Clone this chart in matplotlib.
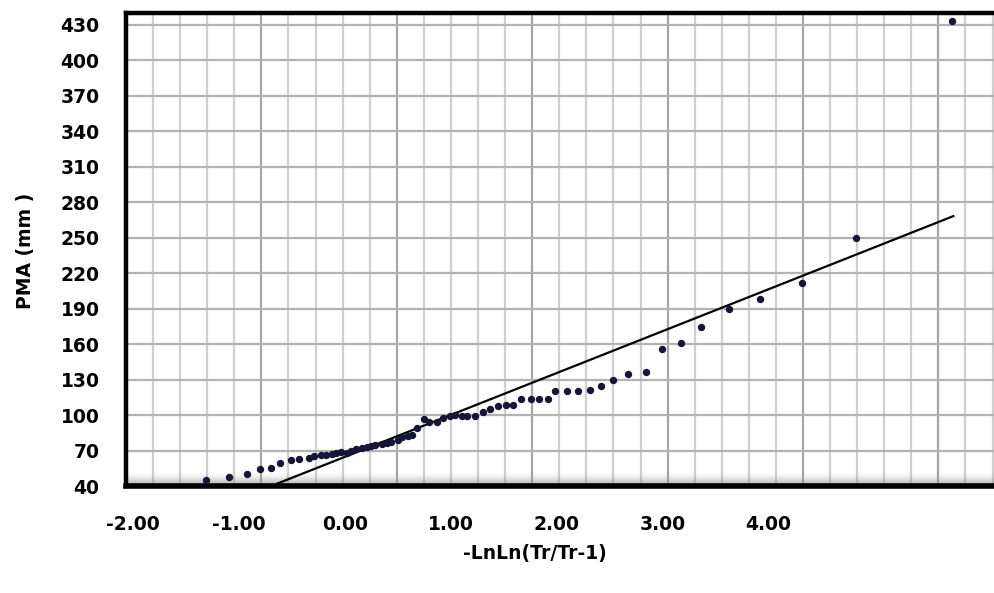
import numpy as np
import matplotlib
matplotlib.use("Agg")
import matplotlib.pyplot as plt
from matplotlib.ticker import MultipleLocator

# Variable réduite de Gumbel (-LnLn(Tr/Tr-1)) et PMA observées (mm)
gumbel_x = [-1.41, -1.24, -1.11, -1.01, -0.93, -0.86, -0.78, -0.72, -0.65, -0.61,
            -0.56, -0.52, -0.48, -0.45, -0.41, -0.37, -0.34, -0.30, -0.26, -0.22,
            -0.19, -0.16, -0.11, -0.07, -0.04, 0.01, 0.04, 0.08, 0.11, 0.15,
            0.20, 0.24, 0.30, 0.34, 0.39, 0.43, 0.48, 0.52, 0.58, 0.64,
            0.69, 0.75, 0.81, 0.86, 0.92, 0.99, 1.05, 1.12, 1.17, 1.26,
            1.34, 1.43, 1.51, 1.60, 1.71, 1.84, 1.96, 2.10, 2.25, 2.45,
            2.68, 2.99, 3.39, 4.10]
pma = [45.1, 47.6, 50.1, 54.4, 55.2, 59.4, 62.0, 62.8, 63.7, 65.4,
       66.2, 66.2, 67.0, 67.9, 68.7, 67.9, 69.6, 71.3, 72.1, 73.0,
       73.8, 74.6, 75.5, 76.3, 77.2, 78.9, 81.4, 82.3, 83.1, 89.0,
       96.6, 94.1, 94.1, 97.5, 99.2, 100.0, 99.2, 99.2, 99.2, 102.5,
       105.1, 107.6, 108.4, 108.4, 113.5, 113.5, 113.5, 113.5, 120.3, 120.3,
       120.3, 121.1, 124.5, 129.6, 134.6, 136.3, 155.8, 160.8, 174.4, 189.6,
       198.0, 211.5, 249.6, 432.9]

# Droite d'ajustement (extrémités)
fit_x = [-0.89, 4.11]
fit_y = [41.7, 268.2]

x_tick_vals = [-2, -1, 0, 1, 2, 3, 4]
y_tick_vals = list(range(40, 431, 30))

fig = plt.figure(figsize=(9.95, 5.93), dpi=100)
ax = fig.add_axes([126 / 995, 107 / 593, 869 / 995, 473 / 593])

# sol grisé en bas de la zone de tracé
grad = np.zeros((60, 1, 4))
grad[:, 0, :3] = 0.55
grad[:, 0, 3] = np.linspace(0, 0.85, 60) ** 1.5
ax.imshow(grad, extent=[0, 1, 0, 0.028], transform=ax.transAxes,
          aspect="auto", zorder=0.6, interpolation="bilinear")

ax.plot(fit_x, fit_y, color="black", lw=1.6, zorder=2)
ax.plot(gumbel_x, pma, "o", ms=4.3, color="#15153a", zorder=3)

ax.set_xlim(-2, 4.418)
ax.set_ylim(40, 440)

ax.xaxis.set_major_locator(MultipleLocator(1))
ax.xaxis.set_minor_locator(MultipleLocator(0.2))
ax.set_yticks(y_tick_vals)
ax.set_axisbelow(True)
ax.grid(which="minor", axis="x", color="#d0d0d0", lw=1.6)
ax.grid(which="major", axis="x", color="#a6a6a6", lw=1.6)
ax.grid(which="major", axis="y", color="#b2b2b2", lw=1.6)

ax.tick_params(axis="x", which="both", length=0, labelbottom=False)
ax.tick_params(axis="y", which="both", length=0, pad=19)
for lab in ax.get_yticklabels():
    lab.set_fontweight("bold")
    lab.set_fontsize(13.5)

ax.spines["right"].set_visible(False)
ax.spines["left"].set_linewidth(3.2)
ax.spines["top"].set_linewidth(3.2)
ax.spines["bottom"].set_linewidth(4)


# les étiquettes de l'axe x ne tombent pas sur le quadrillage dans l'original
def to_lab(x):
    return (x + 0.384) / 0.7815


def from_lab(v):
    return v * 0.7815 - 0.384


sec = ax.secondary_xaxis("bottom", functions=(to_lab, from_lab))
sec.set_xticks(x_tick_vals)
sec.set_xticklabels([f"{v:.2f}" for v in x_tick_vals], fontweight="bold", fontsize=13.5)
sec.tick_params(length=0, pad=21)
sec.spines["bottom"].set_visible(False)

fig.text(25 / 995, 1 - 251 / 593, "PMA (mm )", rotation=90, ha="center", va="center",
         fontweight="bold", fontsize=13.5)
fig.text(535 / 995, 1 - 553 / 593, "-LnLn(Tr/Tr-1)", ha="center", va="center",
         fontweight="bold", fontsize=13.5)

fig.savefig("out.png", dpi=100)
